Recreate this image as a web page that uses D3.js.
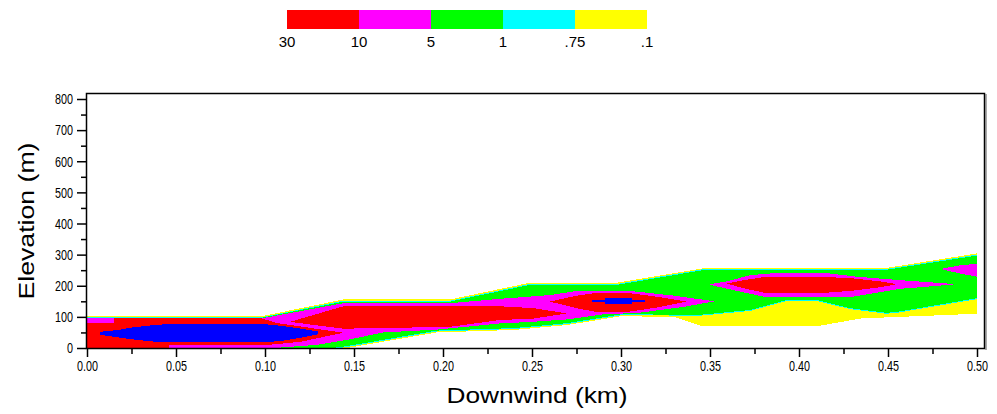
<!DOCTYPE html>
<html>
<head>
<meta charset="utf-8">
<script src="https://cdn.jsdelivr.net/npm/d3@7"></script>
<style>
  body { margin: 0; background: #fff; }
  svg text { font-family: "Liberation Sans", Arial, sans-serif; fill: #000; }
</style>
</head>
<body>
<svg id="chart" width="997" height="414"></svg>
<script>
// legend
const legendColors = ["#ff0000", "#ff00ff", "#00ff00", "#00ffff", "#ffff00"];
const legendLabels = ["30", "10", "5", "1", ".75", ".1"];

// axes
const xTicks = [0, 0.05, 0.10, 0.15, 0.20, 0.25, 0.30, 0.35, 0.40, 0.45, 0.50];
const xMinorTicks = [0.025, 0.075, 0.125, 0.175, 0.225, 0.275, 0.325, 0.375, 0.425, 0.475];
const yTicks = [0, 100, 200, 300, 400, 500, 600, 700, 800];
const yMinorTicks = [50, 150, 250, 350, 450, 550, 650, 750];

// concentration regions, [downwind km, elevation m], outermost level first
const yellowRegions = [
  [[0, 102], [0.098, 102], [0.144, 156], [0.204, 156], [0.249, 210], [0.298, 210], [0.348, 258], [0.45, 258], [0.5, 304],
   [0.5, 110], [0.435, 95], [0.41, 70], [0.345, 71], [0.33, 100], [0.3, 102], [0.27, 74], [0.24, 58], [0.1965, 50], [0.146, 0], [0, 0]]
];
const cyanRegions = [
  [[0, 99], [0.098, 99], [0.144, 152], [0.204, 152], [0.249, 206], [0.298, 206], [0.348, 255], [0.45, 255], [0.5, 300],
   [0.5, 157], [0.455, 113], [0.449, 110], [0.4287, 125], [0.41, 151], [0.393, 151], [0.3725, 119], [0.345, 104], [0.3, 105],
   [0.27, 77], [0.24, 61], [0.1965, 53], [0.146, 3], [0.141, 0], [0, 0]]
];
const greenRegions = [
  [[0, 97], [0.098, 97], [0.144, 149], [0.204, 149], [0.249, 203], [0.298, 203], [0.348, 252], [0.45, 252], [0.5, 297],
   [0.5, 160], [0.455, 116], [0.449, 113], [0.4287, 128], [0.41, 154], [0.393, 154], [0.3725, 122], [0.345, 107], [0.3, 108],
   [0.27, 80], [0.24, 64], [0.1965, 56], [0.146, 6], [0.138, 0], [0, 0]]
];
const magentaRegions = [
  [[0, 95], [0.098, 95], [0.144, 144], [0.204, 144], [0.232, 158], [0.26, 170], [0.276, 184], [0.304, 184], [0.33, 168], [0.3526, 150],
   [0.335, 132], [0.31, 113], [0.29, 108], [0.27, 92], [0.25, 84], [0.232, 79], [0.1965, 59], [0.1665, 50], [0.146, 26], [0.129, 10], [0.105, 0], [0, 0]],
  [[0.35, 205], [0.3594, 214], [0.3725, 234], [0.3893, 242], [0.4137, 242], [0.4325, 229], [0.4568, 218], [0.4886, 205],
   [0.4568, 190], [0.4306, 165], [0.3801, 165], [0.3631, 186], [0.35, 203]],
  [[0.481, 256], [0.49, 265], [0.5, 271], [0.5, 229], [0.49, 240], [0.481, 252]]
];
const redRegions = [
  [[0, 80], [0.015, 80], [0.015, 95], [0.098, 95], [0.107, 80], [0.144, 49], [0.12, 20], [0.1, 9], [0.046, 9], [0.046, 0], [0, 0]],
  [[0.114, 84], [0.144, 134], [0.232, 134], [0.251, 128], [0.2695, 111], [0.25, 94], [0.232, 90], [0.204, 68], [0.144, 62], [0.13, 72]],
  [[0.26, 149], [0.275, 168], [0.285, 176], [0.305, 176], [0.32, 165], [0.337, 149], [0.32, 130], [0.305, 117], [0.285, 117], [0.275, 128]],
  [[0.3594, 207], [0.3687, 218], [0.3819, 229], [0.4118, 229], [0.43, 224], [0.4455, 214], [0.4549, 205],
   [0.4455, 195], [0.43, 184], [0.4118, 176], [0.3819, 176], [0.3687, 192]]
];
const blueRegions = [
  [[0.0075, 42], [0.0075, 52], [0.0178, 58], [0.0253, 66], [0.0384, 74], [0.0459, 77], [0.0993, 77], [0.1096, 71], [0.119, 63], [0.13, 53],
   [0.13, 44], [0.119, 32], [0.1096, 23], [0.0993, 18], [0.0459, 18], [0.0384, 20], [0.0253, 28], [0.0178, 34]],
  [[0.2835, 147], [0.3135, 147], [0.3135, 153], [0.2835, 153]],
  [[0.291, 141], [0.306, 141], [0.306, 162], [0.291, 162]]
];

const layers = [
  {color: "#ffff00", regions: yellowRegions},
  {color: "#00ffff", regions: cyanRegions},
  {color: "#00ff00", regions: greenRegions},
  {color: "#ff00ff", regions: magentaRegions},
  {color: "#ff0000", regions: redRegions},
  {color: "#0000ff", regions: blueRegions}
];

const svg = d3.select("#chart");

const x = d3.scaleLinear().domain([0, 0.5]).range([87, 977]);
const y = d3.scaleLinear().domain([0, 800]).range([348, 99]);

// squeeze a text to a narrower width, the original uses a condensed bitmap font
function narrow(sel, factor) {
  sel.each(function () {
    const w = this.getComputedTextLength();
    d3.select(this).attr("textLength", w * factor).attr("lengthAdjust", "spacingAndGlyphs");
  });
}

// legend bar
const lx = d3.scaleLinear().domain([0, legendColors.length]).range([287, 647]);
svg.append("g")
  .selectAll("rect")
  .data(legendColors)
  .enter()
  .append("rect")
  .attr("x", (d, i) => lx(i))
  .attr("y", 10)
  .attr("width", (d, i) => lx(i + 1) - lx(i))
  .attr("height", 19)
  .attr("fill", d => d)
  .attr("shape-rendering", "crispEdges");

svg.append("g")
  .selectAll("text")
  .data(legendLabels)
  .enter()
  .append("text")
  .attr("x", (d, i) => lx(i))
  .attr("y", 47)
  .attr("text-anchor", "middle")
  .attr("font-size", 15)
  .text(d => d);

// plume
const line = d3.line().x(d => x(d[0])).y(d => y(d[1]));
const plot = svg.append("g").attr("shape-rendering", "crispEdges");
layers.forEach(function (layer) {
  plot.append("g")
    .selectAll("path")
    .data(layer.regions)
    .enter()
    .append("path")
    .attr("d", d => line(d) + "Z")
    .attr("fill", layer.color);
});

// frame
svg.append("rect")
  .attr("x", 86.5)
  .attr("y", 93.5)
  .attr("width", 898)
  .attr("height", 255)
  .attr("fill", "none")
  .attr("stroke", "#000")
  .attr("stroke-width", 1.5);
svg.append("line")
  .attr("x1", 986).attr("x2", 986)
  .attr("y1", 94).attr("y2", 350)
  .attr("stroke", "#555")
  .attr("stroke-width", 1);

// axes
svg.append("g")
  .attr("transform", "translate(0,349)")
  .call(d3.axisBottom(x).tickValues(xTicks).tickSize(8).tickPadding(3).tickFormat(d3.format(".2f")));
svg.append("g")
  .attr("transform", "translate(0,349)")
  .call(d3.axisBottom(x).tickValues(xMinorTicks).tickSize(5).tickFormat(""));
svg.append("g")
  .attr("transform", "translate(86,0)")
  .call(d3.axisLeft(y).tickValues(yTicks).tickSize(9).tickPadding(4));
svg.append("g")
  .attr("transform", "translate(86,0)")
  .call(d3.axisLeft(y).tickValues(yMinorTicks).tickSize(5).tickFormat(""));

svg.selectAll(".domain").remove();
svg.selectAll(".tick line").attr("stroke", "#000").attr("stroke-width", 1.5);
svg.selectAll(".tick text").attr("font-size", 15).attr("font-family", null);
narrow(svg.selectAll(".tick text"), 0.72);

svg.append("text")
  .attr("transform", "translate(34,221) rotate(-90)")
  .attr("text-anchor", "middle")
  .attr("font-size", 22)
  .attr("textLength", 157)
  .attr("lengthAdjust", "spacingAndGlyphs")
  .text("Elevation (m)");

svg.append("text")
  .attr("x", 537)
  .attr("y", 403)
  .attr("text-anchor", "middle")
  .attr("font-size", 22)
  .attr("textLength", 181)
  .attr("lengthAdjust", "spacingAndGlyphs")
  .text("Downwind (km)");
</script>
</body>
</html>
